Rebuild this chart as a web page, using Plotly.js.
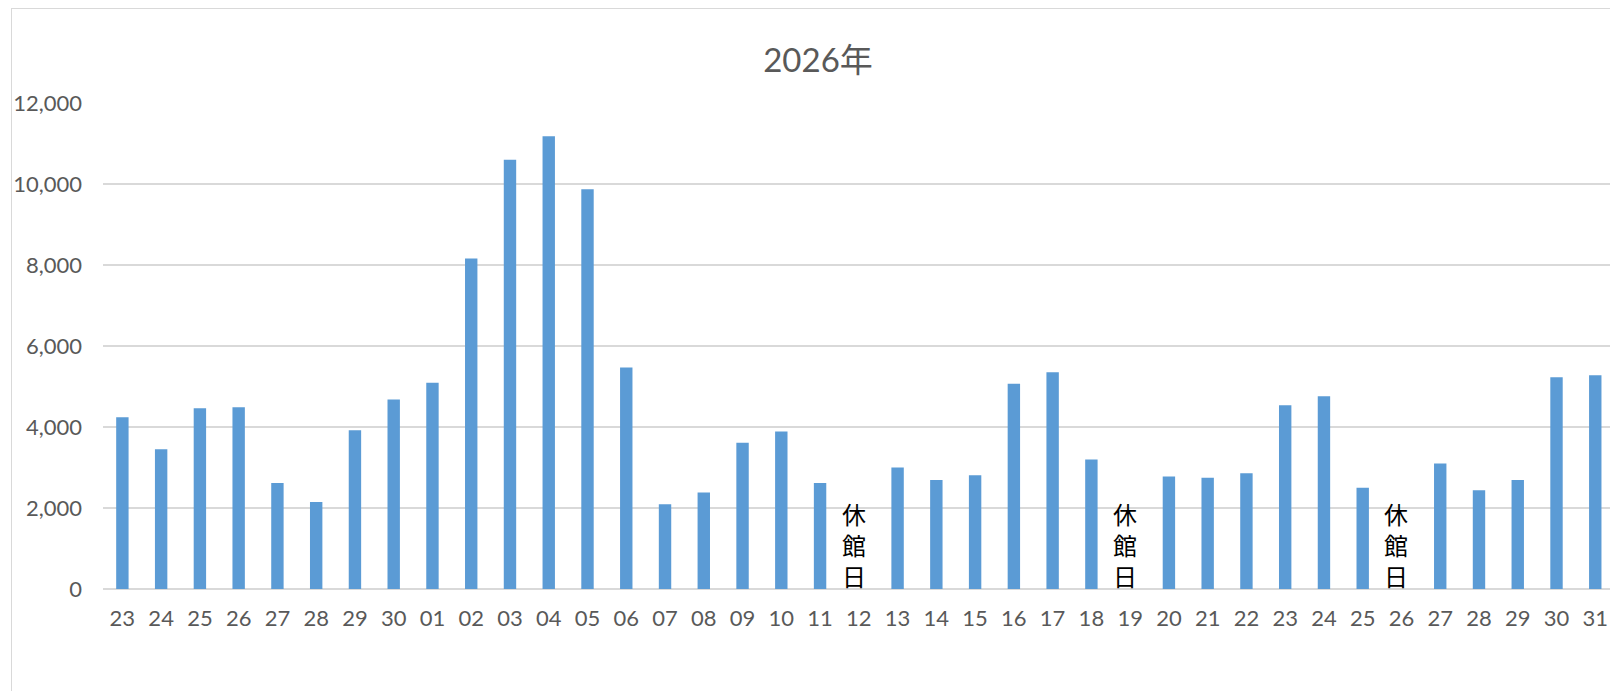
<!DOCTYPE html>
<html>
<head>
<meta charset="utf-8">
<script src="https://cdn.plot.ly/plotly-3.0.1.min.js"></script>
<style>
  html, body { margin: 0; padding: 0; background: #fff; overflow: hidden; }
  #wrap { position: relative; width: 1610px; height: 691px; overflow: hidden; }
  #chart { position: absolute; left: 0; top: 0; width: 1610px; height: 691px; }
  #frame { position: absolute; left: 11px; top: 8px; width: 1700px; height: 800px;
           border: 1px solid #d9d9d9; pointer-events: none; }
</style>
</head>
<body>
<div id="wrap">
  <div id="chart"></div>
  <div id="frame"></div>
</div>
<script>
// Day labels (Dec 23 – Jan 31)
const dayLabels = ['23','24','25','26','27','28','29','30',
  '01','02','03','04','05','06','07','08','09','10',
  '11','12','13','14','15','16','17','18','19','20',
  '21','22','23','24','25','26','27','28','29','30','31'];

// Visitors per day (null = closed)
const visitors = [4240,3450,4460,4490,2620,2150,3920,4680,
  5090,8160,10600,11180,9870,5470,2090,2380,3610,3890,
  2620,null,3000,2690,2810,5070,5350,3200,null,2780,
  2750,2860,4540,4760,2500,null,3100,2440,2690,5230,5280];

const chartTitle = '2026年';
const closedNote = '休館日';
const yTicks = [0,2000,4000,6000,8000,10000,12000];

const xIdx = dayLabels.map((_, i) => i);

const annotations = [];
visitors.forEach((v, i) => {
  if (v === null) {
    annotations.push({
      x: i, y: 0, xref: 'x', yref: 'y',
      text: Array.from(closedNote).join('<br>'),
      showarrow: false,
      xanchor: 'center', yanchor: 'bottom',
      xshift: -5, yshift: -5,
      borderpad: 0,
      font: {family: "'Noto Sans CJK JP', sans-serif", size: 24, color: '#000000'}
    });
  }
});

const trace = {
  type: 'bar',
  x: xIdx,
  y: visitors,
  marker: {color: '#5b9bd5'},
  hoverinfo: 'skip'
};

const layout = {
  width: 1610, height: 691,
  margin: {l: 103, r: 0, t: 103, b: 102, pad: 0},
  paper_bgcolor: 'rgba(0,0,0,0)',
  plot_bgcolor: '#ffffff',
  showlegend: false,
  bargap: 0.68,
  title: {
    text: chartTitle,
    font: {family: "Lato, 'Noto Sans CJK JP', sans-serif", size: 33, color: '#595959'},
    xref: 'container', yref: 'container',
    x: 818 / 1610, y: 1 - 60 / 691,
    xanchor: 'center', yanchor: 'middle'
  },
  xaxis: {
    tickmode: 'array', tickvals: xIdx, ticktext: dayLabels,
    range: [-0.5, 38.38],
    showgrid: false, zeroline: false,
    showline: false, ticks: '',
    ticklabelstandoff: 14,
    tickfont: {family: "Lato, sans-serif", size: 22, color: '#595959'},
    fixedrange: true
  },
  yaxis: {
    range: [0, 12000],
    tickmode: 'array', tickvals: yTicks,
    tickformat: ',d',
    showgrid: true, gridcolor: '#d9d9d9', gridwidth: 2,
    zeroline: true, zerolinecolor: '#d9d9d9', zerolinewidth: 2,
    showline: false, ticks: '',
    ticklabelstandoff: 20,
    tickfont: {family: "Lato, sans-serif", size: 22, color: '#595959'},
    fixedrange: true
  },
  annotations: annotations
};

Plotly.newPlot('chart', [trace], layout, {staticPlot: true, displayModeBar: false});
</script>
</body>
</html>
